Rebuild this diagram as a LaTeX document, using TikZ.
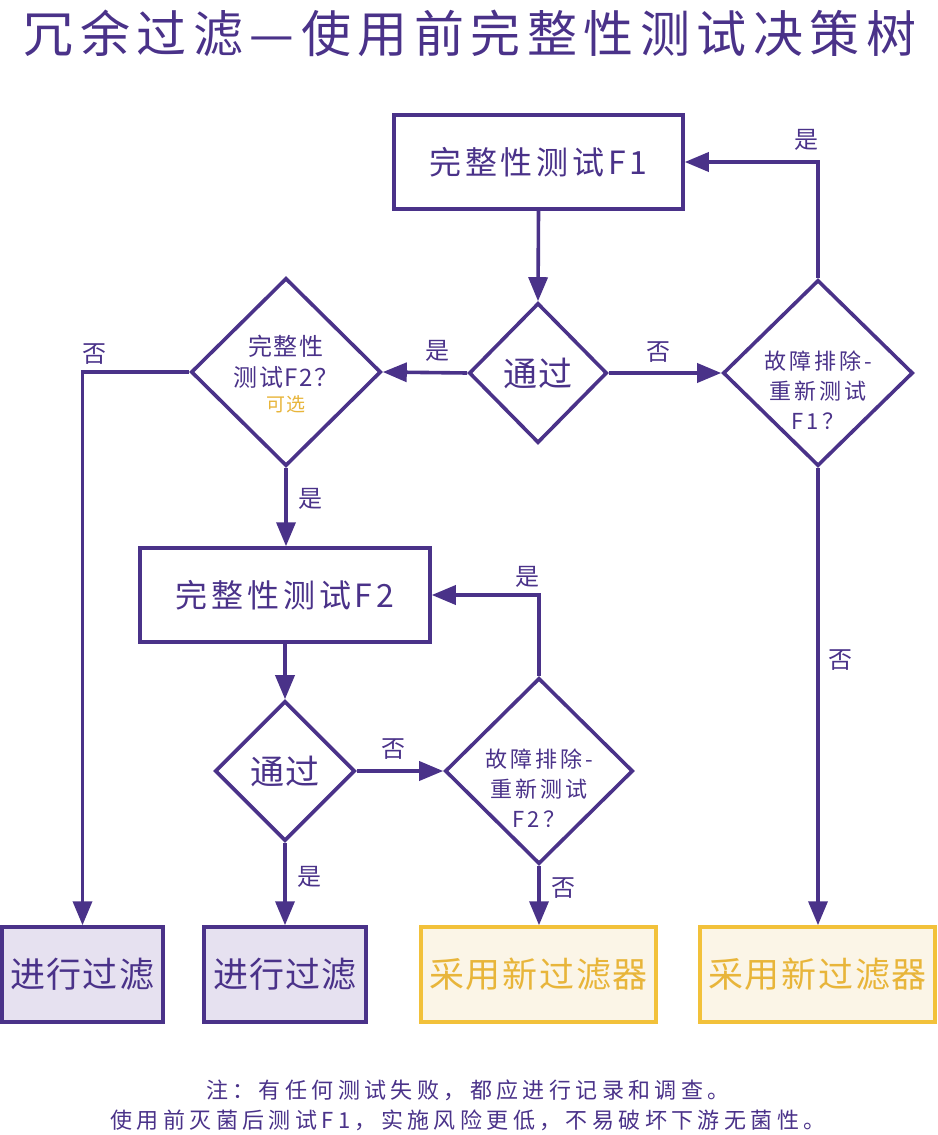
\documentclass[tikz,border=0pt]{standalone}
\usepackage{fontspec}
\setmainfont{Noto Sans CJK SC}
\usetikzlibrary{shapes.geometric,arrows.meta,positioning}
\definecolor{pur}{HTML}{4A3289}
\definecolor{gold}{HTML}{F2C13A}
\definecolor{goldtext}{HTML}{E8B53A}
\definecolor{purfill}{HTML}{E6E1F0}
\definecolor{goldfill}{HTML}{FBF5E7}
\newcommand{\fs}[2]{\fontsize{#1}{#2}\selectfont}
\newcommand{\lsp}[1]{\addfontfeature{LetterSpace=#1}}
\begin{document}
\begin{tikzpicture}[x=1pt,y=-1pt,
  box/.style={draw=pur,line width=3.5pt,fill=white,text=pur,inner sep=0pt,font=\fs{32}{36}\lsp{12}},
  dia/.style={diamond,draw=pur,line width=3.6pt,fill=white,inner sep=0pt},
  dtext/.style={text=pur,align=center,inner sep=0pt},
  pbox/.style={draw=pur,line width=3.5pt,fill=purfill,text=pur,inner sep=0pt,minimum height=95pt,font=\fs{35}{40}\lsp{3}},
  gbox/.style={draw=gold,line width=3.5pt,fill=goldfill,text=goldtext,inner sep=0pt,minimum height=95pt,font=\fs{35}{40}\lsp{5}},
  arr/.style={draw=pur,line width=3.6pt,-{Triangle[length=24pt,width=19pt]}},
  lbl/.style={text=pur,font=\fs{24}{28},inner sep=1pt}]
\useasboundingbox (0,0) rectangle (937,1135);
\node[text=pur,font=\fs{50}{56}\lsp{13}] (title) at (470,33) {冗余过滤—使用前完整性测试决策树};
% nodes
\node[box,minimum width=289pt,minimum height=94pt] (t1) at (538.5,162) {完整性测试F1};
\node[dia,minimum width=138pt,minimum height=140pt,label={[dtext,font=\fs{34}{38}\lsp{3}]center:通过}] (p1) at (538,373) {};
\node[dia,minimum width=190pt,minimum height=188pt,label={[dtext,yshift=-2pt,font=\fs{24}{31}\lsp{6}]center:{完整性\\测试F2？\\[-6pt]{\fs{19}{24}\lsp{6}\color{goldtext}可选}}}] (q2) at (286,372) {};
\node[dia,minimum width=190pt,minimum height=186pt,label={[dtext,yshift=-17pt,font=\fs{22}{30}\lsp{14}]center:{故障排除-\\重新测试\\F1？}}] (r1) at (818,373) {};
\node[box,minimum width=290pt,minimum height=94pt] (t2) at (285,595) {完整性测试F2};
\node[dia,minimum width=140pt,minimum height=140pt,label={[dtext,font=\fs{34}{38}\lsp{3}]center:通过}] (p2) at (285,771) {};
\node[dia,minimum width=188pt,minimum height=186pt,label={[dtext,yshift=-17pt,font=\fs{22}{30}\lsp{14}]center:{故障排除-\\重新测试\\F2？}}] (r2) at (539,771) {};
\node[pbox,minimum width=161pt] (o1) at (82.5,974.5) {进行过滤};
\node[pbox,minimum width=162pt] (o2) at (285,974.5) {进行过滤};
\node[gbox,minimum width=235pt] (o3) at (538.5,974.5) {采用新过滤器};
\node[gbox,minimum width=235pt] (o4) at (817.5,974.5) {采用新过滤器};
% connectors
\draw[arr] (t1.south) -- (p1.north);
\draw[arr] (p1.west) -- (q2.east) node[lbl,pos=0.35,above=8pt] {是};
\draw[arr] (p1.east) -- (r1.west) node[lbl,pos=0.44,above=8pt] {否};
\draw[arr] (r1.north) |- (t1.east) node[lbl,pos=0.5,xshift=-12pt,yshift=22pt] {是};
\draw[arr] (r1.south) -- (r1.south |- o4.north) node[lbl,pos=0.42,right=8pt] {否};
\draw[arr] (q2.west) -| (o1.north) node[lbl,pos=0.5,xshift=12pt,yshift=18pt] {否};
\draw[arr] (q2.south) -- (q2.south |- t2.north) node[lbl,pos=0.4,right=10pt] {是};
\draw[arr] (t2.south) -- (p2.north);
\draw[arr] (p2.east) -- (r2.west) node[lbl,pos=0.43,above=9pt] {否};
\draw[arr] (r2.north) |- (t2.east) node[lbl,pos=0.5,xshift=-12pt,yshift=18pt] {是};
\draw[arr] (r2.south) -- (r2.south |- o3.north) node[lbl,pos=0.38,right=10pt] {否};
\draw[arr] (p2.south) -- (p2.south |- o2.north) node[lbl,pos=0.41,right=10pt] {是};
% footnote
\node[text=pur,font=\fs{22}{26}\lsp{20}] (n1) at (468,1090) {注：有任何测试失败，都应进行记录和调查。};
\node[text=pur,font=\fs{22}{26}\lsp{20}] (n2) at (468,1120) {使用前灭菌后测试F1，实施风险更低，不易破坏下游无菌性。};
\end{tikzpicture}
\end{document}
